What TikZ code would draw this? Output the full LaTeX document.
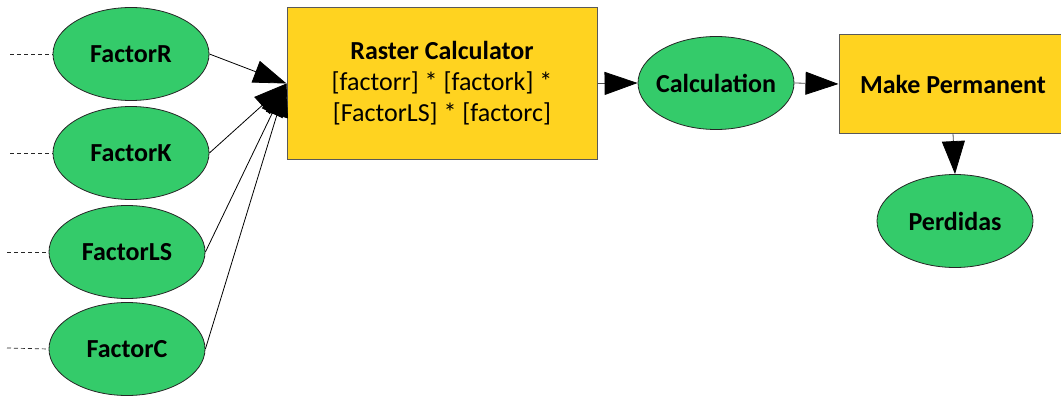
\documentclass[tikz,border=0pt]{standalone}
\usepackage{fontspec}
\setmainfont{Carlito}
\usetikzlibrary{shapes.geometric, arrows.meta}
\definecolor{datagreen}{RGB}{52,203,106}
\definecolor{toolyellow}{RGB}{255,211,32}
\tikzset{
  data/.style={ellipse, draw=black!85, fill=datagreen, line width=0.8pt,
    minimum width=156pt, minimum height=93pt, inner sep=0pt,
    font=\fontsize{26}{30}\selectfont\bfseries},
  tool/.style={rectangle, draw=black!65, fill=toolyellow, line width=1pt,
    align=center, inner sep=0pt, font=\fontsize{26}{31}\selectfont},
  flow/.style={-{Triangle[length=33pt, width=23pt, color=black]}, line width=0.8pt},
  inlink/.style={dashed, dash pattern=on 4pt off 3pt, black!85, line width=0.7pt}
}
\begin{document}
\begin{tikzpicture}[x=1pt, y=-1pt]
  \useasboundingbox (0,0) rectangle (1061,396);
  % inputs
  \node[data] (factorr) at (131,54) {FactorR};
  \node[data] (factork) at (131,153) {FactorK};
  \node[data] (factorls) at (127,252) {FactorLS};
  \node[data] (factorc) at (127,349) {FactorC};
  \coordinate (r0) at (10,54);
  \coordinate (k0) at (10,153);
  \coordinate (ls0) at (7,252);
  \coordinate (c0) at (7,348);
  \draw[inlink] (r0) -- (factorr.west);
  \draw[inlink] (k0) -- (factork.west);
  \draw[inlink] (ls0) -- (factorls.west);
  \draw[inlink] (c0) -- (factorc.west);
  % tools and outputs
  \node[tool, minimum width=310pt, minimum height=151pt] (raster) at (442,83.5)
    {\textbf{Raster Calculator}\\{[}factorr] * [factork] *\\{[}FactorLS] * [factorc]};
  \node[data, inner xsep=-14pt] (calc) at (716,83) {Calculation};
  \node[tool, minimum width=228pt, minimum height=98pt, font=\fontsize{26}{30}\selectfont\bfseries]
    (perm) at (953,84) {Make Permanent};
  \node[data] (perdidas) at (955,221) {Perdidas};
  % connectors
  \foreach \src in {factorr, factork, factorls, factorc} {
    \draw[flow] (\src.east) -- (raster.west);
  }
  \draw[flow, black!70] (raster.east) -- (calc.west);
  \draw[flow, black!70] (calc.east) -- (perm.west);
  \draw[flow, black!70] (perm.south) -- (perdidas.north);
\end{tikzpicture}
\end{document}
